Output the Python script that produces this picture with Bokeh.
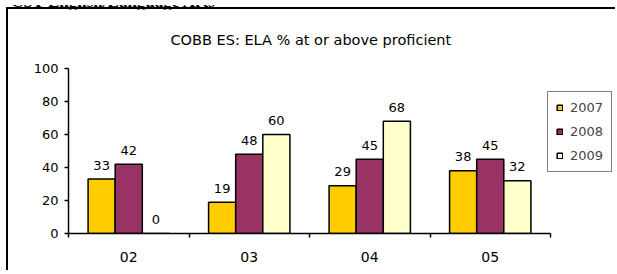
from bokeh.plotting import figure
from bokeh.models import Range1d, FixedTicker, ColumnDataSource, Legend, LegendItem, Div
from bokeh.layouts import column
from bokeh.core.properties import value
from bokeh.embed import file_html
from bokeh.resources import INLINE

header = "CST English/Language Arts"
title = "COBB ES: ELA % at or above proficient"
categories = ["02", "03", "04", "05"]
years = ["2007", "2008", "2009"]
v2007 = [33, 19, 29, 38]
v2008 = [42, 48, 45, 45]
v2009 = [0, 60, 68, 32]
colors = ["#FFCC00", "#993366", "#FFFFCC"]
y_ticks = [0, 20, 40, 60, 80, 100]

FONT = "DejaVu Sans"

# layout geometry (pixels)
W, H = 609, 263
LEFT, TOP, BOTTOM = 60, 54, 39
FRAME_W = W - LEFT
AXIS_W = 482  # width of the category axis inside the frame
n = len(categories)
x_end = n * FRAME_W / AXIS_W

head = Div(text=('<div style="position:relative; top:-12px; left:6px; white-space:nowrap; '
                 'font-family:\'Liberation Serif\'; font-weight:bold; font-size:17px; '
                 'line-height:17px; color:black;">' + header + '</div>'),
           width=617, height=7, styles={"overflow": "hidden"})

p = figure(width=W, height=H, output_backend="svg", toolbar_location=None,
           x_range=Range1d(0, x_end), y_range=Range1d(0, 100),
           min_border_left=LEFT, min_border_right=0, min_border_top=TOP,
           min_border_bottom=BOTTOM, title=title)
p.styles = {"border-left": "2px solid black", "border-top": "2px solid black",
            "margin-left": "6px", "margin-top": "-10px"}
p.outline_line_color = None
p.grid.visible = False
p.background_fill_color = "white"
p.border_fill_color = "white"

p.title.align = "left"
p.title.offset = 102
p.title.text_font = FONT
p.title.text_font_size = "14.5px"
p.title.text_font_style = "normal"
p.title.text_color = "black"
p.title.standoff = 41

# x axis
xa = p.xaxis[0]
xa.bounds = (0, n)
xa.ticker = FixedTicker(ticks=[i + 0.5 for i in range(n)],
                        minor_ticks=list(range(n + 1)))
xa.major_label_overrides = {i + 0.5: c for i, c in enumerate(categories)}
xa.major_tick_out = 0
xa.major_tick_in = 0
xa.minor_tick_out = 4
xa.minor_tick_in = 0
xa.minor_tick_line_color = "black"
xa.minor_tick_line_width = 1.5
xa.axis_line_color = "black"
xa.axis_line_width = 1.5
xa.major_label_text_font = FONT
xa.major_label_text_font_size = "14px"
xa.major_label_text_color = "black"
xa.major_label_standoff = 14

# y axis
ya = p.yaxis[0]
ya.ticker = FixedTicker(ticks=y_ticks)
ya.major_tick_out = 4
ya.major_tick_in = 0
ya.minor_tick_out = 0
ya.minor_tick_in = 0
ya.major_tick_line_color = "black"
ya.major_tick_line_width = 1.5
ya.axis_line_color = "black"
ya.axis_line_width = 1.5
ya.major_label_text_font = FONT
ya.major_label_text_font_size = "13px"
ya.major_label_text_color = "black"
ya.major_label_standoff = 6

bw = 0.225
offsets = [-bw, 0, bw]
series = [v2007, v2008, v2009]
items = []
for yr, vals, off, col in zip(years, series, offsets, colors):
    xs = [i + 0.5 + off for i in range(n)]
    src = ColumnDataSource(dict(x=xs, top=vals, lab=[str(v) for v in vals]))
    r = p.vbar(x="x", top="top", width=bw, source=src, fill_color=col,
               line_color="black", line_width=1.5)
    p.text(x="x", y="top", text="lab", source=src, text_align="center",
           text_baseline="alphabetic", y_offset=-14, text_font=value(FONT),
           text_font_size="13px", text_color="black")
    items.append(LegendItem(label=yr, renderers=[r]))

legend = Legend(items=items, location=(479, 61))
legend.border_line_color = "black"
legend.border_line_width = 1.5
legend.background_fill_color = "white"
legend.background_fill_alpha = 1
legend.glyph_width = 7
legend.glyph_height = 7
legend.label_standoff = 7
legend.label_text_font = FONT
legend.label_text_font_size = "13px"
legend.label_height = 14
legend.spacing = 9
legend.padding = 8
legend.margin = 0
p.add_layout(legend, "center")

layout = column(head, p, spacing=0)
open("out.html", "w").write(file_html(layout, INLINE))
